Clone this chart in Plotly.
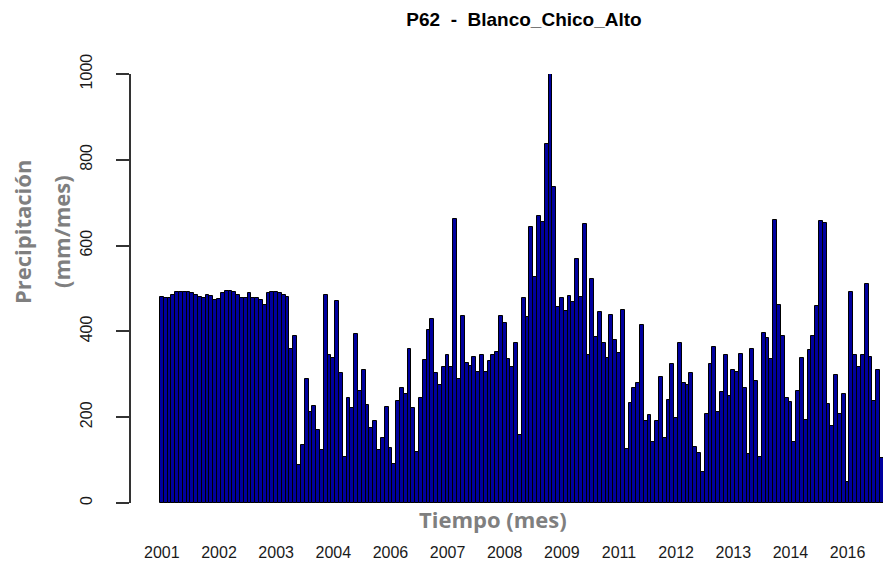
import plotly.graph_objects as go

# Monthly precipitation (mm/mes), Jan 2001 onward (visible bars)
precip_2001_2003 = [481, 479, 477, 485, 491, 493, 491, 491, 489, 485, 481, 479,
                    485, 482, 473, 475, 489, 494, 494, 491, 485, 479, 479, 489,
                    479, 479, 473, 461, 489, 493, 493, 489, 485, 481, 360, 389]
precip_2004_2006 = [88, 135, 290, 213, 225, 170, 124, 486, 345, 337, 472, 304,
                    108, 244, 221, 394, 260, 311, 228, 174, 190, 124, 151, 223,
                    128, 92, 238, 267, 255, 360, 221, 120, 244, 333, 403, 430]
precip_2007_2009 = [302, 275, 318, 345, 318, 661, 290, 436, 327, 319, 341, 306,
                    345, 305, 330, 345, 352, 436, 419, 335, 318, 372, 158, 479,
                    434, 644, 527, 669, 656, 838, 1000, 736, 456, 479, 448, 483]
precip_2010_2012 = [468, 568, 481, 650, 345, 523, 388, 446, 372, 337, 438, 380,
                    349, 451, 127, 232, 267, 280, 415, 190, 205, 143, 190, 293,
                    151, 240, 325, 197, 372, 279, 275, 304, 131, 116, 73, 207]
precip_2013_2016 = [324, 363, 213, 259, 346, 249, 310, 306, 347, 267, 114, 358,
                    285, 108, 397, 384, 335, 660, 461, 389, 244, 236, 143, 262,
                    337, 193, 356, 389, 459, 658, 652, 231, 179, 298, 207, 254,
                    50, 491, 345, 316, 345, 510, 341, 238, 310, 104]

values = precip_2001_2003 + precip_2004_2006 + precip_2007_2009 + precip_2010_2012 + precip_2013_2016
months = list(range(len(values)))

tick_positions = [0, 15, 30, 45, 60, 75, 90, 105, 120, 135, 150, 165, 180]
tick_labels = ["2001", "2002", "2003", "2004", "2006", "2007", "2008",
               "2009", "2011", "2012", "2013", "2014", "2016"]
y_ticks = [0, 200, 400, 600, 800, 1000]

W, H = 883, 569
L, R, T, B = 130, 0, 74, 66
plot_left = 155
pw = W - L - R
ph = H - T - B

def px_x(x):
    return (x - L) / pw

def px_y(y):
    return (H - B - y) / ph

fig = go.Figure()
fig.add_trace(go.Bar(
    x=months, y=values, width=1,
    marker=dict(color="#00009E", line=dict(color="black", width=1)),
    showlegend=False, hoverinfo="y",
))

tick_font = dict(family="Liberation Sans Narrow, Arial Narrow, sans-serif", size=16, color="#1a1a1a")
gray_font = dict(family="Open Sans, sans-serif", size=22, color="#7f7f7f", weight="bold")

fig.update_layout(
    width=W, height=H,
    margin=dict(l=L, r=R, t=T, b=B, pad=0),
    paper_bgcolor="white", plot_bgcolor="white",
    bargap=0,
    title=dict(
        text="P62\u00a0\u00a0-\u00a0\u00a0Blanco_Chico_Alto",
        x=524 / W, xref="container", xanchor="center",
        y=1 - 19 / H, yref="container", yanchor="middle",
        font=dict(family="Liberation Sans, Arial, sans-serif", size=19, color="black", weight="bold"),
    ),
    xaxis=dict(
        domain=[px_x(plot_left), 1],
        range=[-1.8, 189.3],
        tickmode="array", tickvals=tick_positions, ticktext=tick_labels,
        ticks="", showline=False, showgrid=False, zeroline=False,
        tickfont=tick_font, ticklabelstandoff=38,
    ),
    yaxis=dict(
        range=[0, 1000], anchor="free", position=0,
        tickmode="array", tickvals=y_ticks,
        ticks="outside", ticklen=13, tickwidth=1.5, tickcolor="#333333",
        showline=True, linecolor="#333333", linewidth=1.5,
        showgrid=False, zeroline=False,
        tickangle=-90, tickfont=tick_font, ticklabelstandoff=18,
    ),
    annotations=[
        dict(text="Tiempo (mes)", x=px_x(493), y=px_y(519), xref="paper", yref="paper",
             showarrow=False, xanchor="center", yanchor="middle", font=gray_font),
        dict(text="Precipitación", x=px_x(22), y=px_y(232), xref="paper", yref="paper",
             showarrow=False, xanchor="center", yanchor="middle", textangle=-90, font=gray_font),
        dict(text="(mm/mes)", x=px_x(61), y=px_y(232), xref="paper", yref="paper",
             showarrow=False, xanchor="center", yanchor="middle", textangle=-90, font=gray_font),
    ],
)

fig.write_html("out.html")
